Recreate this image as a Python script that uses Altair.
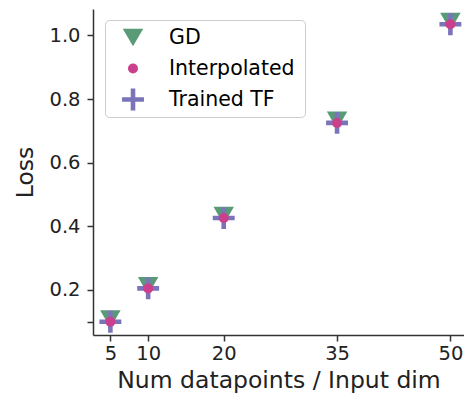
import altair as alt
import pandas as pd

x_vals = [5, 10, 20, 35, 50]
gd_loss = [0.108, 0.213, 0.434, 0.733, 1.043]
interp_loss = [0.100, 0.205, 0.426, 0.725, 1.035]
tf_loss = [0.100, 0.205, 0.426, 0.725, 1.035]

series_names = ["GD", "Interpolated", "Trained TF"]
series_colors = ["#5a9b77", "#cc3f8c", "#7a74b8"]
x_ticks = [5, 10, 20, 35, 50]
y_ticks = [0.1, 0.2, 0.4, 0.6, 0.8, 1.0]

plus_path = ("M-1,-0.21L-0.21,-0.21L-0.21,-1L0.21,-1L0.21,-0.21L1,-0.21L1,0.21"
             "L0.21,0.21L0.21,1L-0.21,1L-0.21,0.21L-1,0.21Z")
shapes = ["triangle-down", "circle", plus_path]
sizes = [420, 100, 480]

rows = []
# draw order: GD, Trained TF, Interpolated (on top)
for name, vals, order in [("GD", gd_loss, 0), ("Trained TF", tf_loss, 1), ("Interpolated", interp_loss, 2)]:
    for x, v in zip(x_vals, vals):
        rows.append({"x": x, "loss": v, "series": name, "ord": order})
df = pd.DataFrame(rows)

FONT = "DejaVu Sans"

chart = alt.Chart(df).mark_point(filled=True, opacity=1).encode(
    x=alt.X("x:Q",
            scale=alt.Scale(domain=[2.7, 51.8], nice=False, zero=False),
            axis=alt.Axis(values=x_ticks, title="Num datapoints / Input dim", grid=False,
                          labelFontSize=19.5, titleFontSize=23.5, labelPadding=3,
                          titlePadding=6, tickSize=6, tickWidth=1.5, domainWidth=1.5,
                          labelFlush=False)),
    y=alt.Y("loss:Q",
            scale=alt.Scale(domain=[0.0585, 1.083], nice=False, zero=False),
            axis=alt.Axis(values=y_ticks, title="Loss", grid=False, format=".1f",
                          labelExpr="datum.value < 0.15 ? '' : datum.label",
                          labelFontSize=19.5, titleFontSize=23.5, labelPadding=7,
                          titlePadding=11, tickSize=6, tickWidth=1.5, domainWidth=1.5,
                          labelFlush=False)),
    color=alt.Color("series:N", scale=alt.Scale(domain=series_names, range=series_colors),
                    legend=alt.Legend(title="ii", titleOrient="right", titleColor="white",
                                      titleFontSize=10, titlePadding=2,
                                      orient="none", legendX=12, legendY=11,
                                      labelFontSize=20.5, labelFont=FONT,
                                      strokeColor="#cccccc", fillColor="white",
                                      cornerRadius=4, padding=2, clipHeight=31,
                                      rowPadding=0, symbolOffset=14, labelOffset=24)),
    shape=alt.Shape("series:N", scale=alt.Scale(domain=series_names, range=shapes)),
    size=alt.Size("series:N", scale=alt.Scale(type="ordinal", domain=series_names, range=sizes)),
    order=alt.Order("ord:Q"),
).properties(
    width=371, height=326,
    autosize=alt.AutoSizeParams(type="none"),
    padding={"left": 93, "top": 9, "right": 0, "bottom": 67},
).configure_view(stroke=None).configure_axis(
    labelFont=FONT, titleFont=FONT, labelColor="#222222", titleColor="#222222",
    domainColor="#333333", tickColor="#333333", titleFontWeight="normal",
)

chart.save("out.html", embed_options={"renderer": "svg", "actions": False})
